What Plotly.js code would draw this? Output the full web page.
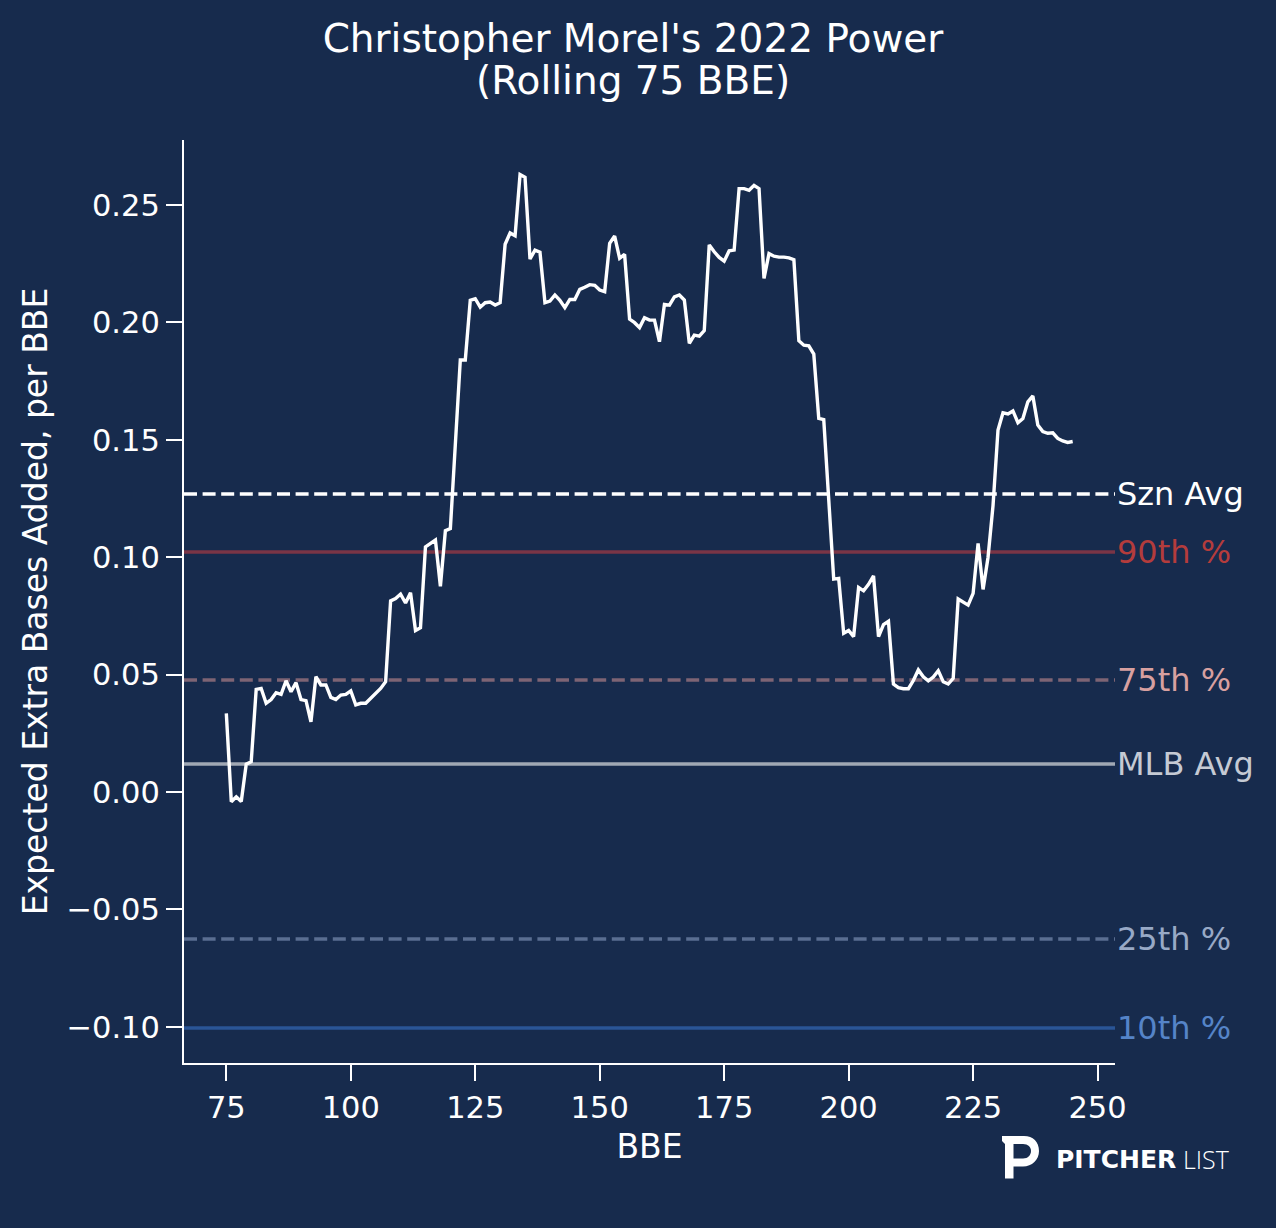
<!DOCTYPE html>
<html>
<head>
<meta charset="utf-8">
<script src="https://cdn.plot.ly/plotly-3.0.1.min.js"></script>
<style>
  body { margin: 0; background: #172b4d; }
</style>
</head>
<body>
<div id="myDiv"></div>
<script>
// rolling 75 BBE values, first point is BBE 75
const startBBE = 75;
const xebaAdded = [
    0.0335, -0.0041, -0.0020, -0.0040, 0.0119, 0.0129, 0.0437, 0.0441, 0.0378, 0.0394,
    0.0423, 0.0416, 0.0474, 0.0427, 0.0466, 0.0394, 0.0389, 0.0299, 0.0491, 0.0456,
    0.0456, 0.0403, 0.0394, 0.0413, 0.0416, 0.0431, 0.0371, 0.0378, 0.0378, 0.0399,
    0.0420, 0.0441, 0.0470, 0.0814, 0.0824, 0.0843, 0.0805, 0.0849, 0.0688, 0.0700,
    0.1044, 0.1059, 0.1073, 0.0876, 0.1113, 0.1122, 0.1480, 0.1840, 0.1840, 0.2094,
    0.2101, 0.2065, 0.2084, 0.2087, 0.2074, 0.2084, 0.2333, 0.2381, 0.2369, 0.2630,
    0.2618, 0.2270, 0.2308, 0.2299, 0.2084, 0.2091, 0.2117, 0.2094, 0.2063, 0.2098,
    0.2098, 0.2141, 0.2150, 0.2161, 0.2158, 0.2138, 0.2131, 0.2337, 0.2368, 0.2273,
    0.2290, 0.2014, 0.1999, 0.1978, 0.2020, 0.2010, 0.2010, 0.1918, 0.2077, 0.2074,
    0.2109, 0.2117, 0.2095, 0.1911, 0.1946, 0.1942, 0.1965, 0.2330, 0.2301, 0.2277,
    0.2261, 0.2305, 0.2308, 0.2570, 0.2570, 0.2563, 0.2584, 0.2570, 0.2188, 0.2293,
    0.2282, 0.2278, 0.2278, 0.2275, 0.2267, 0.1922, 0.1903, 0.1900, 0.1865, 0.1591,
    0.1586, 0.1230, 0.0907, 0.0910, 0.0676, 0.0688, 0.0662, 0.0871, 0.0857, 0.0885,
    0.0921, 0.0662, 0.0713, 0.0727, 0.0460, 0.0445, 0.0440, 0.0440, 0.0475, 0.0520,
    0.0491, 0.0474, 0.0490, 0.0517, 0.0470, 0.0460, 0.0484, 0.0822, 0.0810, 0.0796,
    0.0846, 0.1059, 0.0863, 0.1000, 0.1220, 0.1542, 0.1615, 0.1610, 0.1623, 0.1573,
    0.1591, 0.1662, 0.1687, 0.1563, 0.1535, 0.1528, 0.1530, 0.1506, 0.1495, 0.1489,
    0.1493
];
const bbe = xebaAdded.map((v, i) => startBBE + i);

// reference lines
const refLabels = ["Szn Avg", "90th %", "75th %", "MLB Avg", "25th %", "10th %"];
const refValues = [0.1269, 0.1022, 0.0477, 0.0119, -0.0626, -0.1005];
const refLineColors = ["#ffffff", "#7a3546", "#7e6474", "#a0a8b4", "#5a6e91", "#2a5596"];
const refTextColors = ["#ffffff", "#b43c3c", "#d8a0a0", "#c5cad4", "#98a9c6", "#5584c8"];
const refDash = ["13px,5.6px", "solid", "13px,5.6px", "solid", "13px,5.6px", "solid"];

const bg = "#172b4d";
const font = "DejaVu Sans";

// plot area in pixels
const W = 1276, H = 1228;
const L = 184, R = 1115, T = 140, B = 1063;
function px(x) { return (x - L) / (R - L); }
function py(y) { return (B - y) / (B - T); }

var shapes = [];
var annotations = [];
refValues.forEach((v, i) => {
    shapes.push({
        type: "line", xref: "paper", yref: "y",
        x0: 0, x1: 1, y0: v, y1: v,
        line: { color: refLineColors[i], width: 3.5, dash: refDash[i] },
        layer: "below"
    });
    annotations.push({
        xref: "paper", yref: "y", x: 1, y: v,
        xanchor: "left", yanchor: "middle", showarrow: false,
        text: refLabels[i],
        font: { family: font, size: 32, color: refTextColors[i] }
    });
});

// second title line, kept apart for tighter line spacing
annotations.push({
    xref: "paper", yref: "paper", x: px(633), y: py(81),
    xanchor: "center", yanchor: "middle", showarrow: false,
    text: "(Rolling 75 BBE)",
    font: { family: font, size: 39, color: "#ffffff" }
});

// pitcher list logo
function path(pts) {
    return pts.map(p => (typeof p === "string") ? p : (px(p[0]).toFixed(5) + "," + py(p[1]).toFixed(5))).join(" ");
}
shapes.push({
    type: "path", xref: "paper", yref: "paper",
    path: path(["M", [1002, 1136], "L", [1024, 1136], "C", [1033, 1136], [1039, 1142], [1039, 1151],
        "C", [1039, 1160], [1032, 1166.5], [1023, 1166.5], "L", [1013.5, 1166.5], "L", [1013.5, 1178.5],
        "L", [1005, 1178.5], "L", [1005, 1144], "L", [1002, 1141], "Z"]),
    fillcolor: "#ffffff", line: { width: 0 }
});
shapes.push({
    type: "path", xref: "paper", yref: "paper",
    path: path(["M", [1013.5, 1144], "L", [1023, 1144], "C", [1028, 1144], [1031, 1147], [1031, 1151],
        "C", [1031, 1155], [1028, 1158.5], [1023, 1158.5], "L", [1013.5, 1158.5], "Z"]),
    fillcolor: bg, line: { width: 0 }
});
annotations.push({
    xref: "paper", yref: "paper", x: px(1054), y: py(1159),
    xanchor: "left", yanchor: "middle", showarrow: false,
    text: "<b>PITCHER</b>",
    font: { family: font, size: 25, color: "#ffffff" }
});
annotations.push({
    xref: "paper", yref: "paper", x: px(1181), y: py(1159),
    xanchor: "left", yanchor: "middle", showarrow: false,
    text: "LIST",
    font: { family: "Open Sans", size: 25, color: "#ffffff", weight: 300 }
});

var data = [{
    x: bbe,
    y: xebaAdded,
    type: "scatter",
    mode: "lines",
    line: { color: "#ffffff", width: 3.4 },
    hoverinfo: "skip"
}];

var layout = {
    width: W,
    height: H,
    paper_bgcolor: bg,
    plot_bgcolor: bg,
    showlegend: false,
    margin: { l: L, r: W - R, t: T, b: H - B, pad: 0 },
    font: { family: font, color: "#ffffff", size: 30 },
    title: {
        text: "Christopher Morel's 2022 Power",
        font: { family: font, size: 39, color: "#ffffff" },
        x: 633 / W, xref: "container", xanchor: "center",
        y: 1 - 38 / H, yref: "container", yanchor: "middle"
    },
    xaxis: {
        range: [66.5, 253.5],
        tickvals: [75, 100, 125, 150, 175, 200, 225, 250],
        ticks: "outside", ticklen: 16, tickwidth: 2, tickcolor: "#ffffff",
        showline: true, linecolor: "#ffffff", linewidth: 2,
        showgrid: false, zeroline: false,
        tickfont: { family: font, size: 30.5, color: "#ffffff" },
        title: { text: "BBE", standoff: 11, font: { family: font, size: 33, color: "#ffffff" } }
    },
    yaxis: {
        range: [-0.1154, 0.2777],
        tickvals: [-0.10, -0.05, 0, 0.05, 0.10, 0.15, 0.20, 0.25],
        tickformat: ".2f",
        ticks: "outside", ticklen: 16, tickwidth: 2, tickcolor: "#ffffff",
        showline: true, linecolor: "#ffffff", linewidth: 2,
        showgrid: false, zeroline: false,
        tickfont: { family: font, size: 30.5, color: "#ffffff" },
        title: { text: "Expected Extra Bases Added, per BBE", standoff: 9, font: { family: font, size: 33, color: "#ffffff" } }
    },
    shapes: shapes,
    annotations: annotations
};

Plotly.newPlot("myDiv", data, layout, { displayModeBar: false, staticPlot: true });
</script>
</body>
</html>
